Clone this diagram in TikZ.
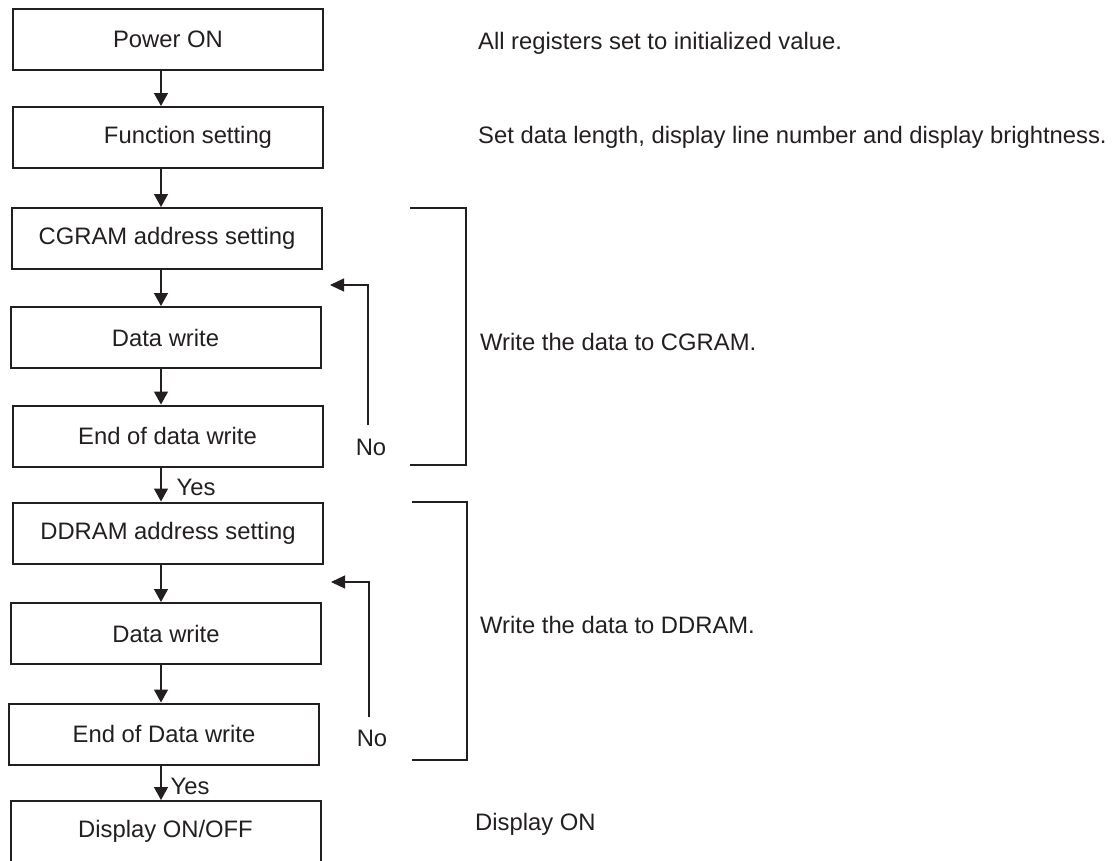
\documentclass[tikz,border=0pt]{standalone}
\usepackage{fontspec}
\setmainfont{Liberation Sans}
\usetikzlibrary{arrows.meta}
\definecolor{ink}{HTML}{231F20}

\begin{document}
\begin{tikzpicture}[x=1pt,y=-1pt,
    font=\fontsize{23.8}{28}\selectfont,
    box/.style={draw=ink,line width=2pt,minimum width=310pt,minimum height=61pt,inner sep=0pt,text=ink},
    flow/.style={draw=ink,line width=1.3pt,-{Triangle[width=14pt,length=13pt]}},
    back/.style={draw=ink,line width=1.2pt,-{Triangle[width=13pt,length=14pt]}},
    brace/.style={draw=ink,line width=2pt},
    note/.style={anchor=base west,inner sep=0pt,text=ink},
    tag/.style={inner sep=0pt,text=ink}]
    \useasboundingbox (0,0) rectangle (1113,860);
    \clip (0,0) rectangle (1113,860);

    \node[box] (pwr) at (168,39.5) {Power ON};
    \node[box] (fn) at (168,137.5) {\hspace*{40pt}Function setting};
    \node[box] (cgaddr) at (167,238.5) {CGRAM address setting};
    \node[box] (cgwr) at (165.5,337.5) {Data write};
    \node[box] (cgend) at (167.5,436) {End of data write};
    \node[box] (ddaddr) at (168,533) {DDRAM address setting};
    \node[box] (ddwr) at (166,633.5) {Data write};
    \node[box] (ddend) at (164,734) {End of Data write};
    \node[box] (disp) at (165.5,831.5) {Display ON/OFF};

    \coordinate (col) at (161,0);
    \draw[flow] (pwr.south -| col) -- (fn.north -| col);
    \draw[flow] (fn.south -| col) -- (cgaddr.north -| col);
    \draw[flow] (cgaddr.south -| col) -- (cgwr.north -| col);
    \draw[flow] (cgwr.south -| col) -- (cgend.north -| col);
    \draw[flow] (cgend.south -| col) -- (ddaddr.north -| col);
    \draw[flow] (ddaddr.south -| col) -- (ddwr.north -| col);
    \draw[flow] (ddwr.south -| col) -- (ddend.north -| col);
    \draw[flow] (ddend.south -| col) -- (disp.north -| col);

    \node[tag] (cgyes) at (196,487) {Yes};
    \node[tag] (ddyes) at (190,786) {Yes};
    \node[tag] (cgno) at (371,447) {No};
    \node[tag] (ddno) at (372,738) {No};

    \coordinate (cgfrom) at (368,425);
    \coordinate (cgback) at (330,285);
    \coordinate (ddfrom) at (369,717);
    \coordinate (ddback) at (331,582);
    \draw[back] (cgfrom) |- (cgback);
    \draw[back] (ddfrom) |- (ddback);

    \draw[brace] (410,208) -- (466,208) -- (466,465) -- (410,465);
    \draw[brace] (412,502) -- (467,502) -- (467,760) -- (412,760);

    \node[note] (pwrnote) at (478,49) {All registers set to initialized value.};
    \node[note] (fnnote) at (478,143) {Set data length, display line number and display brightness.};
    \node[note] (cgnote) at (480,350) {Write the data to CGRAM.};
    \node[note] (ddnote) at (480,633) {Write the data to DDRAM.};
    \node[note] (dispnote) at (475,830) {Display ON};
\end{tikzpicture}
\end{document}
